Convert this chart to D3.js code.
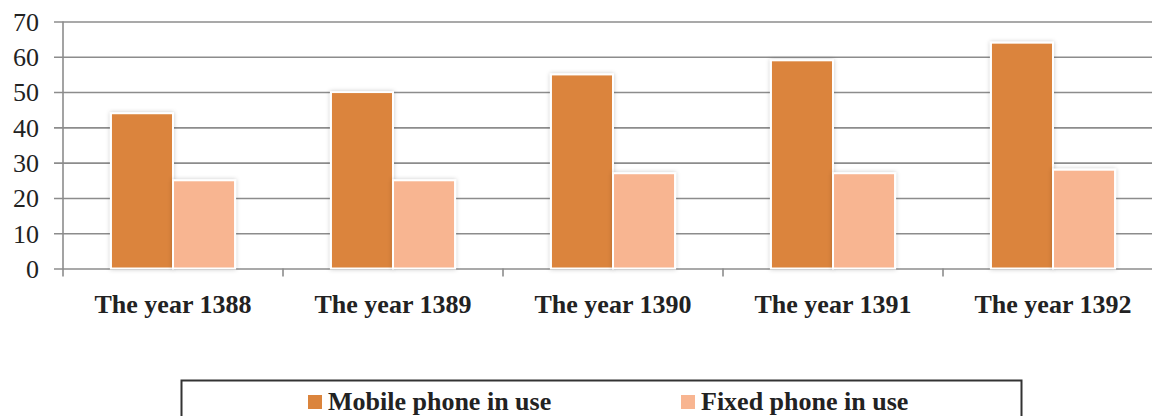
<!DOCTYPE html>
<html>
<head>
    <script src="https://d3js.org/d3.v7.min.js"></script>
    <style>
        body { margin: 0; background: #fff; }
        svg { display: block; }
        text { font-family: "Liberation Serif", "Times New Roman", serif; fill: #222; }
        .grid line { stroke: #8c8c8c; stroke-width: 1.6; }
        .grid path { display: none; }
    </style>
</head>
<body>
<div id="chart"></div>
<script>
// data
const categories = ["The year 1388", "The year 1389", "The year 1390", "The year 1391", "The year 1392"];
const seriesNames = ["Mobile phone in use", "Fixed phone in use"];
const mobileValues = [44, 50, 55, 59, 64];
const fixedValues = [25, 25, 27, 27, 28];
const yTicks = [0, 10, 20, 30, 40, 50, 60, 70];
const colors = ["#db843c", "#f8b591"];

const rows = categories.map((c, i) => ({
    cat: c,
    values: [
        {key: seriesNames[0], value: mobileValues[i]},
        {key: seriesNames[1], value: fixedValues[i]}
    ]
}));

const W = 1152, H = 416;
const plotLeft = 63, plotBottom = 268.5, plotTop = 21.5;

const svg = d3.select("#chart").append("svg")
    .attr("width", W).attr("height", H);

const defs = svg.append("defs");
const f = defs.append("filter").attr("id", "shadow")
    .attr("x", "-20%").attr("y", "-20%").attr("width", "140%").attr("height", "140%");
f.append("feDropShadow").attr("dx", 0).attr("dy", 0)
    .attr("stdDeviation", 2.2).attr("flood-color", "#000").attr("flood-opacity", 0.22);

const x0 = d3.scaleBand()
    .domain(categories)
    .range([plotLeft, plotLeft + 220 * 5])
    .paddingInner(0.436)
    .paddingOuter(0.218);

const x1 = d3.scaleBand()
    .domain(seriesNames)
    .range([0, x0.bandwidth()]);

const y = d3.scaleLinear().domain([0, 70]).range([plotBottom, plotTop]);

const color = d3.scaleOrdinal().domain(seriesNames).range(colors);

// grid lines + y tick labels
const yAxis = svg.append("g")
    .attr("class", "grid")
    .attr("transform", `translate(${plotLeft},0)`)
    .call(d3.axisLeft(y).tickValues(yTicks).tickSize(-(W - plotLeft)).tickSizeOuter(0).tickPadding(0));
yAxis.selectAll(".tick line").attr("x1", -9);
yAxis.selectAll(".tick text")
    .attr("x", -24)
    .attr("dy", "0.34em")
    .style("font-size", "26px")
    .style("font-family", "'Liberation Serif', serif")
    .attr("fill", "#222");

// y axis line
svg.append("line")
    .attr("x1", plotLeft).attr("x2", plotLeft)
    .attr("y1", y(70)).attr("y2", plotBottom + 8)
    .attr("stroke", "#8c8c8c").attr("stroke-width", 1.6);

// x-axis ticks between categories
const step = x0.step();
svg.append("g").selectAll("line")
    .data(categories.slice(1))
    .join("line")
    .attr("x1", d => x0(d) - x0.paddingInner() * step / 2)
    .attr("x2", d => x0(d) - x0.paddingInner() * step / 2)
    .attr("y1", plotBottom).attr("y2", plotBottom + 8)
    .attr("stroke", "#8c8c8c").attr("stroke-width", 1.6);

// bars
const groups = svg.append("g").selectAll("g")
    .data(rows)
    .join("g")
    .attr("transform", d => `translate(${x0(d.cat)},0)`);

groups.selectAll("rect")
    .data(d => d.values)
    .join("rect")
    .attr("x", d => x1(d.key))
    .attr("y", d => y(d.value))
    .attr("width", x1.bandwidth())
    .attr("height", d => plotBottom - y(d.value))
    .attr("fill", d => color(d.key))
    .attr("stroke", "#fff")
    .attr("stroke-width", 2)
    .attr("filter", "url(#shadow)");

// category labels
svg.append("g").selectAll("text")
    .data(categories)
    .join("text")
    .attr("x", d => x0(d) + x0.bandwidth() / 2)
    .attr("y", 313)
    .attr("text-anchor", "middle")
    .style("font-size", "26px")
    .style("font-weight", "bold")
    .text(d => d);

// legend
svg.append("rect")
    .attr("x", 181.5).attr("y", 380.5)
    .attr("width", 840).attr("height", 60)
    .attr("fill", "none")
    .attr("stroke", "#333").attr("stroke-width", 2);

const legendX = [308, 681];
const leg = svg.append("g").selectAll("g")
    .data(seriesNames)
    .join("g")
    .attr("transform", (d, i) => `translate(${legendX[i]},0)`);
leg.append("rect")
    .attr("x", 0).attr("y", 395)
    .attr("width", 14).attr("height", 14)
    .attr("fill", d => color(d));
leg.append("text")
    .attr("x", 20).attr("y", 410)
    .style("font-size", "26px")
    .style("font-weight", "bold")
    .text(d => d);
</script>
</body>
</html>
